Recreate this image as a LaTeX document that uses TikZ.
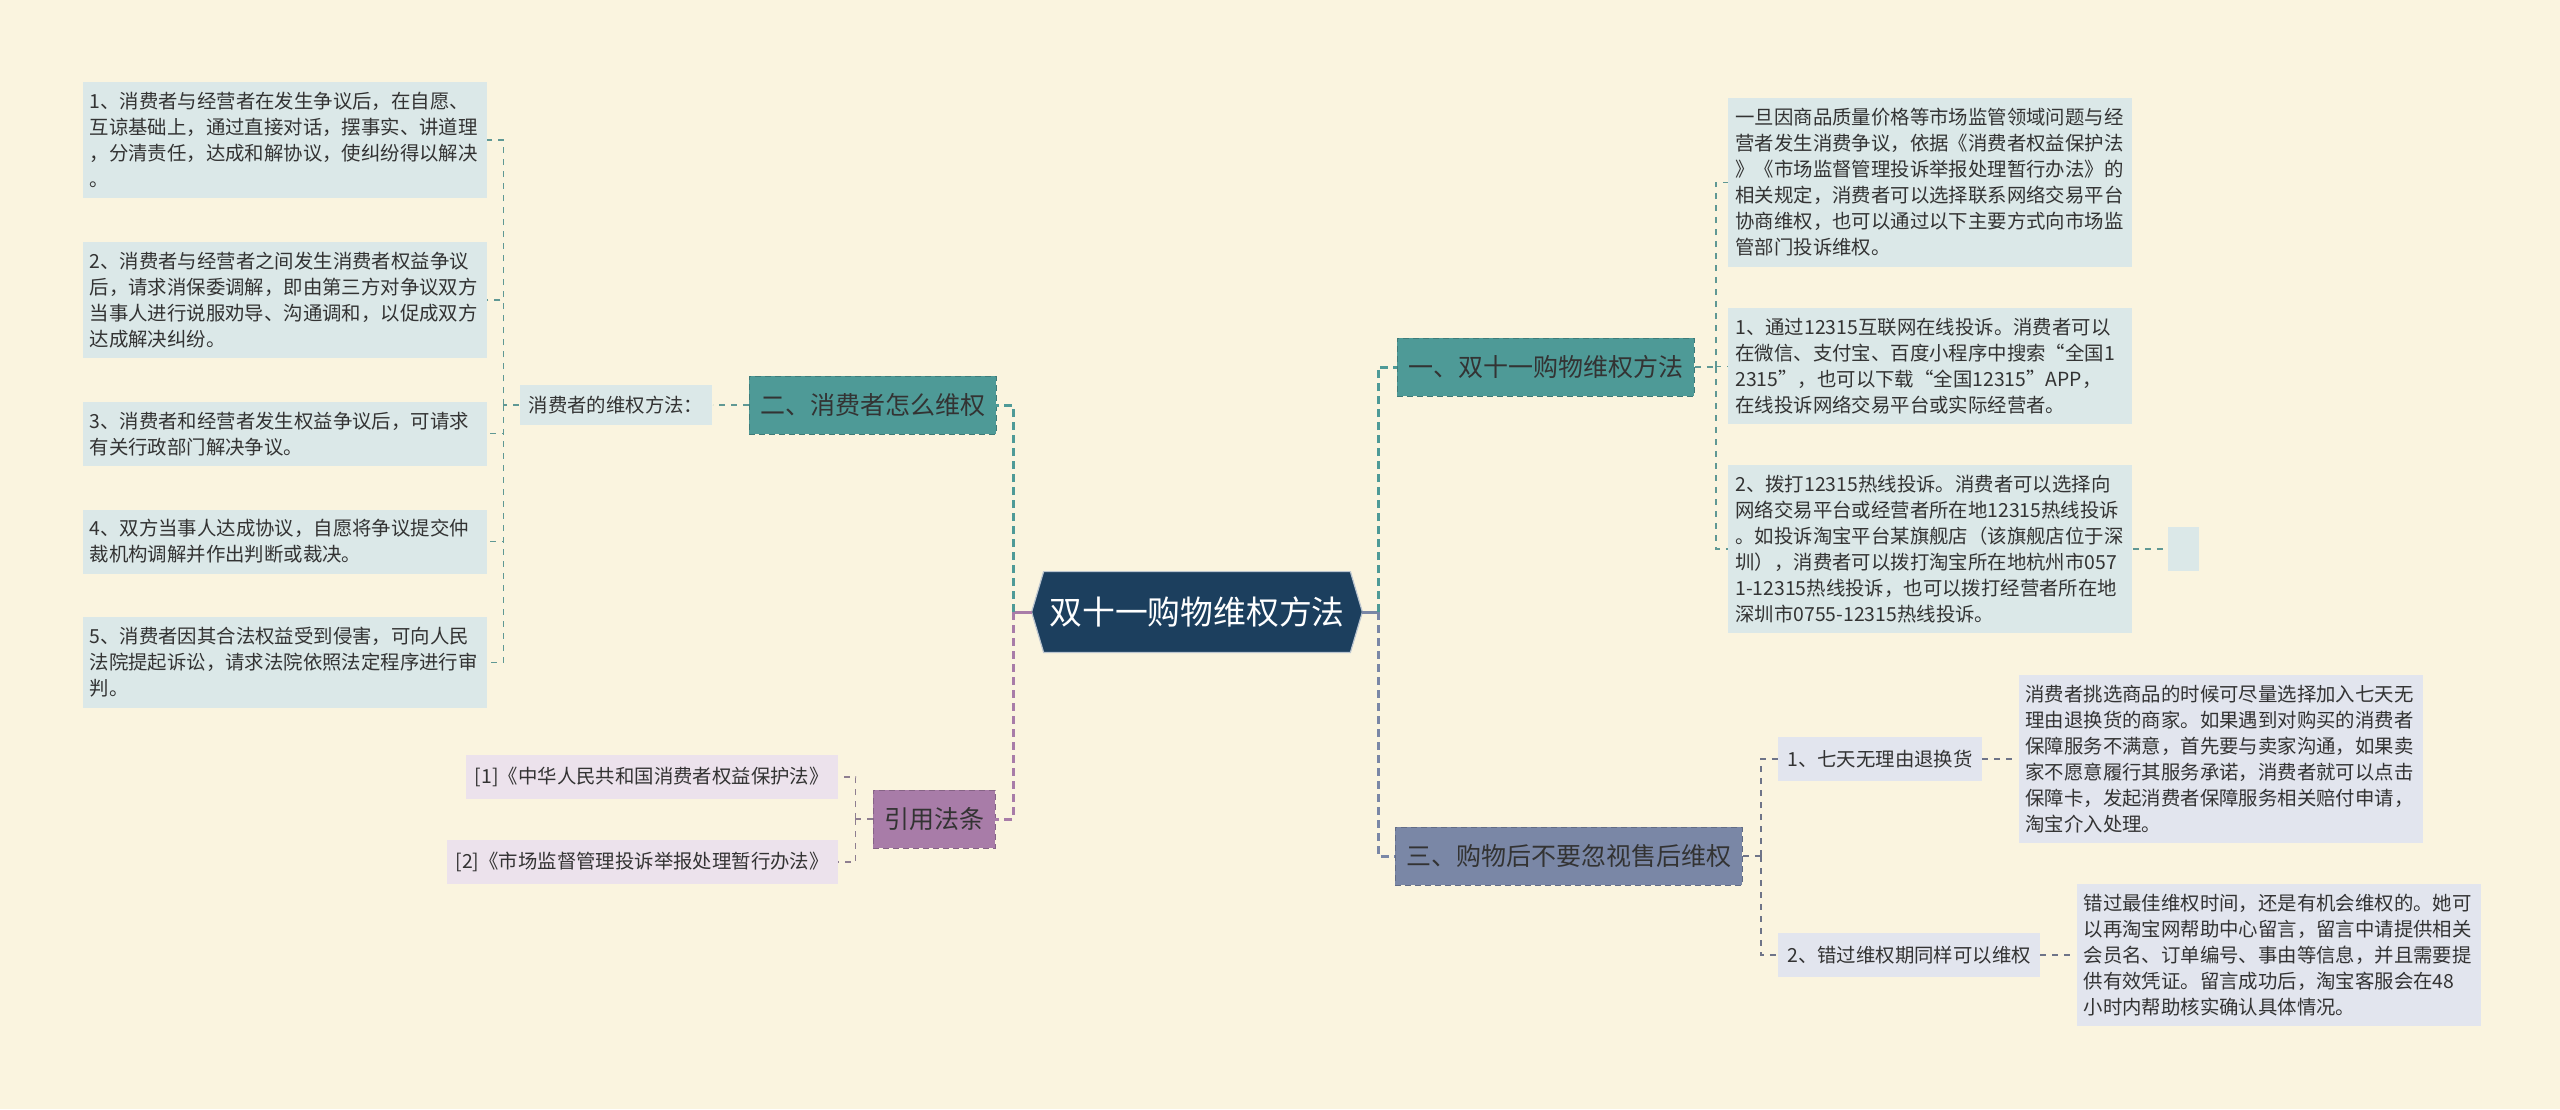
\documentclass[tikz,border=0pt]{standalone}
\usepackage{fontspec}
\setmainfont{Noto Sans CJK SC}
\usepackage{xcolor}
\usepackage{tikz}
\usetikzlibrary{positioning, calc, backgrounds}

\definecolor{bgcream}{HTML}{FAF4DF}
\definecolor{rootnavy}{HTML}{1C3F5E}
\definecolor{tealbr}{HTML}{4E9A97}
\definecolor{plumbr}{HTML}{A87CA8}
\definecolor{slatebr}{HTML}{7A87A6}
\definecolor{leafblue}{HTML}{DBE8E8}
\definecolor{leaflav}{HTML}{ECE2EC}
\definecolor{leafgrey}{HTML}{E2E5EE}
\definecolor{inktext}{HTML}{333333}
\definecolor{twigteal}{HTML}{5F9894}
\definecolor{twigplum}{HTML}{8E7E90}
\definecolor{twigslate}{HTML}{6E7488}

\begin{document}
\begin{tikzpicture}[
    x=0.5pt, y=-0.5pt,
    font=\fontsize{9.7}{13}\selectfont,
    text=inktext,
    root/.style={rectangle, minimum width=153pt, minimum height=40pt,
                 inner sep=0pt, text=white, font=\fontsize{16.4}{20}\selectfont},
    branch/.style={rectangle, fill=#1, draw=#1!80!black, densely dashed,
                   line width=0.4pt, inner xsep=5.5pt, minimum height=29pt,
                   font=\fontsize{12.5}{15}\selectfont},
    leaf/.style={rectangle, fill=#1, inner xsep=3.5pt, inner ysep=5pt,
                 text width=195pt, align=left},
    tag/.style={rectangle, fill=#1, inner xsep=4.5pt, inner ysep=0pt,
                minimum height=22pt},
    stub/.style={line width=1.5pt, draw=#1},
    trunk/.style={line width=1.5pt, dash pattern=on 4pt off 2.5pt, draw=#1},
    twig/.style={line width=0.7pt, dash pattern=on 3pt off 3pt, draw=#1}
  ]
  \useasboundingbox (0,0) rectangle (2560,1109);

  % centre
  \node[root] (root) at (1197,612) {双十一购物维权方法};
  \coordinate (rootw) at ([xshift=-6pt]root.west);
  \coordinate (roote) at ([xshift=6pt]root.east);

  % left side
  \node[branch=tealbr] (howto) at (872.5,405) {二、消费者怎么维权};
  \node[tag=leafblue, minimum height=20pt, left=18pt of howto] (methods) {消费者的维权方法：};

  \node[leaf=leafblue, anchor=north east] (l1) at (487,82)
        {1、消费者与经营者在发生争议后，在自愿、\\互谅基础上，通过直接对话，摆事实、讲道理\\，分清责任，达成和解协议，使纠纷得以解决\\。};
  \node[leaf=leafblue, below=21.5pt of l1] (l2)
        {2、消费者与经营者之间发生消费者权益争议\\后，请求消保委调解，即由第三方对争议双方\\当事人进行说服劝导、沟通调和，以促成双方\\达成解决纠纷。};
  \node[leaf=leafblue, below=21.5pt of l2] (l3)
        {3、消费者和经营者发生权益争议后，可请求\\有关行政部门解决争议。};
  \node[leaf=leafblue, below=21.5pt of l3] (l4)
        {4、双方当事人达成协议，自愿将争议提交仲\\裁机构调解并作出判断或裁决。};
  \node[leaf=leafblue, below=21.5pt of l4] (l5)
        {5、消费者因其合法权益受到侵害，可向人民\\法院提起诉讼，请求法院依照法定程序进行审\\判。};

  \node[branch=plumbr] (laws) at (934,819) {引用法条};
  \node[tag=leaflav, anchor=east] (law1) at (838,777) {[1]《中华人民共和国消费者权益保护法》};
  \node[tag=leaflav, anchor=east] (law2) at (838,862) {[2]《市场监督管理投诉举报处理暂行办法》};

  % right side
  \node[branch=tealbr, anchor=west] (ways) at (1397,367) {一、双十一购物维权方法};
  \node[leaf=leafblue, anchor=north west] (r1) at (1728,98)
        {一旦因商品质量价格等市场监管领域问题与经\\营者发生消费争议，依据《消费者权益保护法\\》《市场监督管理投诉举报处理暂行办法》的\\相关规定，消费者可以选择联系网络交易平台\\协商维权，也可以通过以下主要方式向市场监\\管部门投诉维权。};
  \node[leaf=leafblue, below=20.5pt of r1] (r2)
        {1、通过12315互联网在线投诉。消费者可以\\在微信、支付宝、百度小程序中搜索“全国1\\2315”，也可以下载“全国12315”APP，\\在线投诉网络交易平台或实际经营者。};
  \node[leaf=leafblue, below=20pt of r2] (r3)
        {2、拨打12315热线投诉。消费者可以选择向\\网络交易平台或经营者所在地12315热线投诉\\。如投诉淘宝平台某旗舰店（该旗舰店位于深\\圳），消费者可以拨打淘宝所在地杭州市057\\1-12315热线投诉，也可以拨打经营者所在地\\深圳市0755-12315热线投诉。};
  \node[tag=leafblue, minimum width=15.5pt, inner xsep=0pt, right=17.5pt of r3] (r3x) {};

  \node[branch=slatebr, anchor=west] (after) at (1395,856) {三、购物后不要忽视售后维权};
  \node[tag=leafgrey, anchor=west] (sev) at (1778,759) {1、七天无理由退换货};
  \node[tag=leafgrey, anchor=west] (late) at (1778,955) {2、错过维权期同样可以维权};
  \node[leaf=leafgrey, right=18pt of sev] (sevtxt)
        {消费者挑选商品的时候可尽量选择加入七天无\\理由退换货的商家。如果遇到对购买的消费者\\保障服务不满意，首先要与卖家沟通，如果卖\\家不愿意履行其服务承诺，消费者就可以点击\\保障卡，发起消费者保障服务相关赔付申请，\\淘宝介入处理。};
  \node[leaf=leafgrey, right=18pt of late] (latetxt)
        {错过最佳维权时间，还是有机会维权的。她可\\以再淘宝网帮助中心留言，留言中请提供相关\\会员名、订单编号、事由等信息，并且需要提\\供有效凭证。留言成功后，淘宝客服会在48\\小时内帮助核实确认具体情况。};

  % hexagon and paper
  \begin{scope}[on background layer]
    \fill[bgcream] (0,0) rectangle (2560,1109);
    \draw[fill=rootnavy, draw=white!70!rootnavy, line width=0.6pt]
      (root.north west) -- (root.north east) -- (roote) -- (root.south east)
      -- (root.south west) -- (rootw) -- cycle;
  \end{scope}

  % main connectors
  \coordinate (lhub) at (1013,612);
  \coordinate (rhub) at (1378,612);
  \draw[stub=plumbr] (rootw) -- (lhub);
  \draw[stub=slatebr] (roote) -- (rhub);
  \draw[trunk=tealbr] (lhub) |- (howto.east);
  \draw[trunk=plumbr] (lhub) |- (laws.east);
  \draw[trunk=tealbr] (rhub) |- (ways.west);
  \draw[trunk=slatebr] (rhub) |- (after.west);

  % small connectors
  \draw[twig=twigteal] (howto.west) -- (methods.east);
  \coordinate (lfork) at ($(methods.west)+(-16,0)$);
  \draw[twig=twigteal] (methods.west) -- (lfork);
  \foreach \n in {l1,l2,l3,l4,l5}
    \draw[twig=twigteal] (lfork) |- (\n.east);

  \coordinate (lawfork) at ($(laws.west)+(-17,0)$);
  \draw[twig=twigplum] (laws.west) -- (lawfork);
  \foreach \n in {law1,law2}
    \draw[twig=twigplum] (lawfork) |- (\n.east);

  \coordinate (rfork) at ($(ways.east)+(21,0)$);
  \draw[twig=twigteal] (ways.east) -- (rfork);
  \foreach \n in {r1,r2,r3}
    \draw[twig=twigteal] (rfork) |- (\n.west);
  \draw[twig=twigteal] (r3.east) -- (r3x.west);

  \coordinate (afterfork) at ($(after.east)+(18,0)$);
  \draw[twig=twigslate] (after.east) -- (afterfork);
  \foreach \n in {sev,late}
    \draw[twig=twigslate] (afterfork) |- (\n.west);
  \draw[twig=twigslate] (sev.east) -- (sevtxt.west);
  \draw[twig=twigslate] (late.east) -- (latetxt.west);

\end{tikzpicture}
\end{document}
